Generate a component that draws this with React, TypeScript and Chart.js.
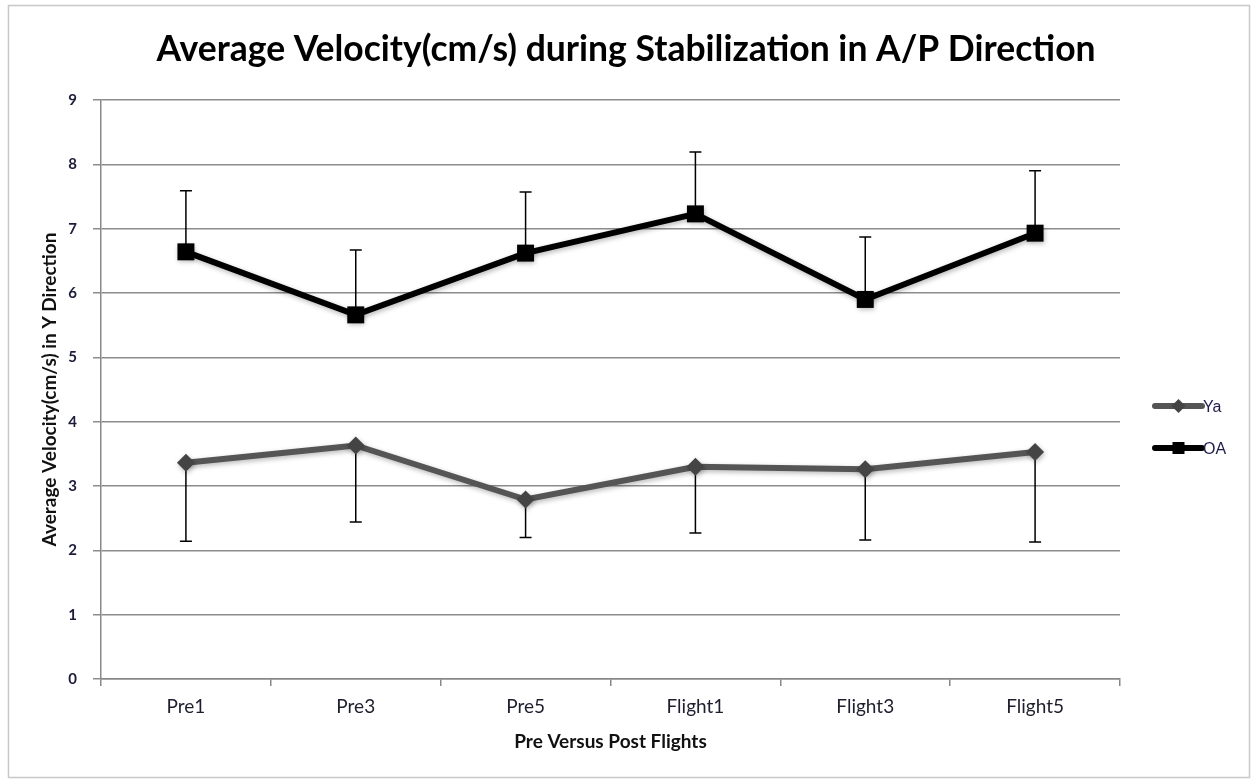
import React, { useEffect, useRef } from 'react';
import { Chart, registerables } from 'chart.js';

Chart.register(...registerables);

const categories = ['Pre1', 'Pre3', 'Pre5', 'Flight1', 'Flight3', 'Flight5'];
const yaValues = [3.36, 3.63, 2.79, 3.3, 3.26, 3.53];
const yaErrorsMinus = [1.22, 1.19, 0.59, 1.03, 1.1, 1.4];
const oaValues = [6.64, 5.66, 6.62, 7.23, 5.9, 6.93];
const oaErrorsPlus = [0.95, 1.01, 0.95, 0.96, 0.97, 0.97];
const seriesNames = ['Ya', 'OA'];
const yTicks = [0, 1, 2, 3, 4, 5, 6, 7, 8, 9];

const titleText = 'Average Velocity(cm/s) during Stabilization in A/P Direction';
const xTitle = 'Pre Versus Post Flights';
const yTitle = 'Average Velocity(cm/s) in Y Direction';

const FONT = 'Lato, "Open Sans", sans-serif';

export default function App() {
  const ref = useRef<HTMLCanvasElement>(null);

  useEffect(() => {
    document.body.style.margin = '0';
    const canvas = ref.current;
    if (!canvas) return;

    const errorBars = {
      id: 'errorBars',
      beforeDatasetsDraw(chart: any) {
        const { ctx, scales } = chart;
        const x = scales.x;
        const y = scales.y;
        ctx.save();
        ctx.strokeStyle = '#000';
        ctx.lineWidth = 1.5;
        const draw = (vals: number[], errs: number[], dir: number) => {
          vals.forEach((v, i) => {
            const px = x.getPixelForValue(i);
            const y0 = y.getPixelForValue(v);
            const y1 = y.getPixelForValue(v + dir * errs[i]);
            ctx.beginPath();
            ctx.moveTo(px, y0);
            ctx.lineTo(px, y1);
            ctx.moveTo(px - 6, y1);
            ctx.lineTo(px + 6, y1);
            ctx.stroke();
          });
        };
        draw(yaValues, yaErrorsMinus, -1);
        draw(oaValues, oaErrorsPlus, 1);
        ctx.restore();
      },
    };

    const softShadow = {
      id: 'softShadow',
      beforeDatasetDraw(chart: any) {
        const { ctx } = chart;
        ctx.save();
        ctx.shadowColor = 'rgba(0,0,0,0.28)';
        ctx.shadowBlur = 5;
        ctx.shadowOffsetX = 1;
        ctx.shadowOffsetY = 2;
      },
      afterDatasetDraw(chart: any) {
        chart.ctx.restore();
      },
    };

    const customLegend = {
      id: 'customLegend',
      afterDraw(chart: any) {
        const { ctx, chartArea } = chart;
        const x0 = chartArea.right + 35;
        const x1 = x0 + 47;
        const items = chart.data.datasets.map((ds: any, i: number) => ({
          ds,
          y: 406 + i * 42,
        }));
        ctx.save();
        items.forEach(({ ds, y }: any) => {
          ctx.strokeStyle = ds.borderColor;
          ctx.lineWidth = 6;
          ctx.lineCap = 'round';
          ctx.beginPath();
          ctx.moveTo(x0, y);
          ctx.lineTo(x1, y);
          ctx.stroke();
          ctx.fillStyle = ds.pointBackgroundColor;
          const cx = (x0 + x1) / 2;
          if (ds.pointStyle === 'rect') {
            ctx.fillRect(cx - 6, y - 6, 12, 12);
          } else {
            ctx.beginPath();
            ctx.moveTo(cx, y - 7);
            ctx.lineTo(cx + 7, y);
            ctx.lineTo(cx, y + 7);
            ctx.lineTo(cx - 7, y);
            ctx.closePath();
            ctx.fill();
          }
          ctx.fillStyle = '#1c1c4a';
          ctx.font = '16px "Liberation Sans", Arial, sans-serif';
          ctx.textAlign = 'left';
          ctx.textBaseline = 'middle';
          ctx.fillText(ds.label, x1 + 1, y + 2);
        });
        ctx.restore();
      },
    };

    const frame = {
      id: 'frame',
      afterDraw(chart: any) {
        const { ctx } = chart;
        ctx.save();
        ctx.strokeStyle = '#c8c8c8';
        ctx.lineWidth = 1.5;
        ctx.strokeRect(8.5, 5.5, 1241, 772);
        ctx.restore();
      },
    };

    const chart = new Chart(canvas, {
      type: 'line',
      data: {
        labels: categories,
        datasets: [
          {
            label: seriesNames[0],
            data: yaValues,
            borderColor: '#555555',
            backgroundColor: '#444444',
            borderWidth: 6,
            pointStyle: 'rectRot',
            pointRadius: 9,
            pointBackgroundColor: '#444444',
            pointBorderColor: '#444444',
            pointBorderWidth: 0,
            tension: 0,
            clip: false as any,
          },
          {
            label: seriesNames[1],
            data: oaValues,
            borderColor: '#000000',
            backgroundColor: '#000000',
            borderWidth: 6,
            pointStyle: 'rect',
            pointRadius: 12,
            pointBackgroundColor: '#000000',
            pointBorderColor: '#000000',
            pointBorderWidth: 0,
            tension: 0,
            clip: false as any,
          },
        ],
      },
      options: {
        animation: false,
        responsive: true,
        maintainAspectRatio: false,
        layout: { padding: 0 },
        plugins: {
          legend: { display: false },
          tooltip: { enabled: false },
          title: {
            display: true,
            text: titleText,
            color: '#000',
            font: { family: FONT, size: 35.5, weight: 'bold' },
            padding: { top: 28.5, bottom: 28.9 },
          },
        },
        scales: {
          x: {
            type: 'category',
            offset: true,
            afterFit: (s: any) => {
              s.height = 100;
            },
            grid: {
              display: true,
              offset: true,
              drawOnChartArea: false,
              drawTicks: true,
              tickLength: 7,
              color: '#888',
              lineWidth: 1.5,
            },
            border: { display: true, color: '#888', width: 1.5 },
            ticks: {
              color: '#1e1e2e',
              font: { family: FONT, size: 19 },
              padding: 9.6,
            },
            title: {
              display: true,
              text: xTitle,
              color: '#111',
              font: { family: FONT, size: 19, weight: 'bold' },
              padding: { top: 0, bottom: 25.6 },
            },
          },
          y: {
            min: 0,
            max: 9,
            afterFit: (s: any) => {
              s.width = 101;
            },
            afterBuildTicks: (s: any) => {
              s.ticks = yTicks.map((v) => ({ value: v }));
            },
            grid: {
              color: '#8c8c8c',
              lineWidth: 1.5,
              tickLength: 8,
            },
            border: { display: true, color: '#888', width: 1.5 },
            ticks: {
              color: '#1c1c3a',
              font: { family: FONT, size: 15, weight: 'bold' },
              padding: 16,
            },
            title: {
              display: true,
              text: yTitle,
              color: '#111',
              font: { family: FONT, size: 19, weight: 'bold' },
              padding: { top: 38.6, bottom: 0 },
            },
          },
          legendSpace: {
            type: 'linear',
            position: 'right',
            display: true,
            afterFit: (s: any) => {
              s.width = 132;
            },
            grid: { display: false, drawTicks: false },
            border: { display: false },
            ticks: { display: false },
          },
        } as any,
      },
      plugins: [errorBars, softShadow, customLegend, frame],
    });

    return () => chart.destroy();
  }, []);

  return (
    <div style={{ position: 'relative', width: 1252, height: 779 }}>
      <canvas ref={ref} />
    </div>
  );
}
